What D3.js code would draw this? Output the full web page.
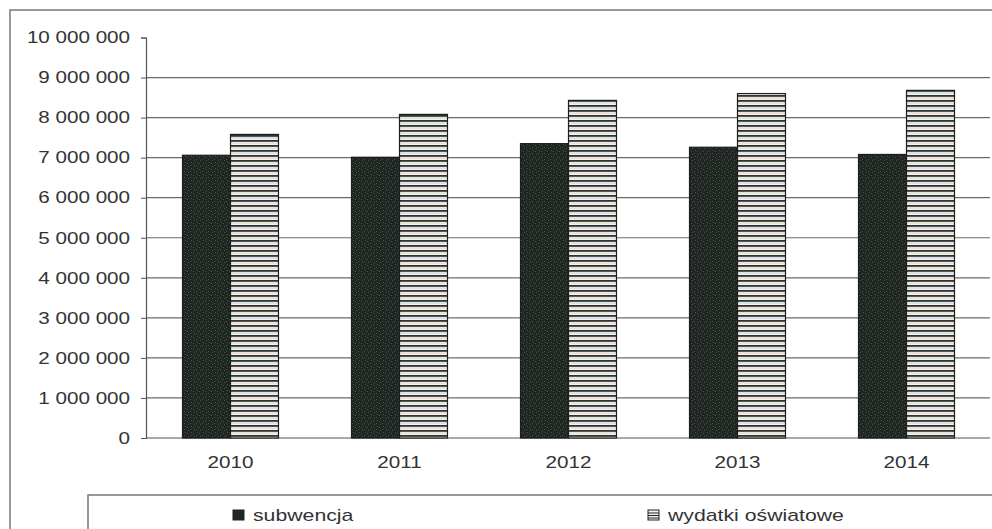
<!DOCTYPE html>
<html><head><meta charset="utf-8">
<script src="https://cdn.jsdelivr.net/npm/d3@7"></script>
<style>body{margin:0;background:#fff}svg{display:block}text{font-family:"Liberation Sans",Arial,sans-serif;fill:#333}</style>
</head><body><svg id="c" width="992" height="529"></svg>
<script>
const years = ["2010","2011","2012","2013","2014"];
const subwencja = [7060000, 7010000, 7350000, 7260000, 7080000];
const wydatki = [7580000, 8080000, 8430000, 8600000, 8680000];
const seriesNames = ["subwencja","wydatki oświatowe"];
const yTicks = [0,1000000,2000000,3000000,4000000,5000000,6000000,7000000,8000000,9000000,10000000];

const SX = 1.25; // horizontal stretch of the scanned text
const svg = d3.select("#c");
const m = {l:146, t:37.5, r:991, b:438};
const defs = svg.append("defs");
const pd = defs.append("pattern").attr("id","dark").attr("patternUnits","userSpaceOnUse").attr("width",6).attr("height",6);
pd.append("rect").attr("width",6).attr("height",6).attr("fill","#202622");
[[1,1],[4,3],[2,4],[5,0]].forEach(([x,y])=>pd.append("rect").attr("x",x).attr("y",y).attr("width",1).attr("height",1).attr("fill","#4a524c"));
const ps = defs.append("pattern").attr("id","stripe").attr("patternUnits","userSpaceOnUse").attr("width",10).attr("height",15);
ps.append("rect").attr("width",10).attr("height",15).attr("fill","#f4f2ee");
["#d9e4ea","#efe0dc","#e2e8d8"].forEach((c,i)=>ps.append("rect").attr("y",i*5+2).attr("width",10).attr("height",2).attr("fill",c));
[0,5,10].forEach(y=>ps.append("rect").attr("y",y).attr("width",10).attr("height",1.8).attr("fill","#2f3431"));

svg.append("path").attr("d","M10,529 V10 H992").attr("fill","none").attr("stroke","#777").attr("stroke-width",1.5);

const y = d3.scaleLinear().domain([0,10000000]).range([m.b,m.t]);
const x0 = d3.scaleBand().domain(years).range([m.l,m.r]).paddingInner(0.432).paddingOuter(0.216);
const x1 = d3.scaleBand().domain(seriesNames).range([0,x0.bandwidth()]);

svg.append("g").selectAll("line").data(yTicks.filter(d=>d>0 && d<10000000)).join("line")
 .attr("x1",m.l).attr("x2",990).attr("y1",d=>y(d)).attr("y2",d=>y(d)).attr("stroke","#6a6a6a").attr("stroke-width",1.2);

const fmt = d=>d3.format(",")(d).replace(/,/g," ");
const ya = svg.append("g").attr("transform",`translate(${m.l},0)`)
 .call(d3.axisLeft(y).tickValues(yTicks).tickFormat(fmt).tickSize(5));
ya.attr("font-size",null).attr("font-family",null);
ya.select(".domain").attr("stroke","#555").attr("stroke-width",1.2);
ya.selectAll(".tick line").attr("stroke","#555");
ya.selectAll("text").style("font-size","16.5px").attr("fill","#333")
  .attr("x",-16/SX).attr("transform",`scale(${SX},1)`);

const xa = svg.append("g").attr("transform",`translate(0,${m.b})`)
 .call(d3.axisBottom(x0).tickSize(0).tickPadding(18));
xa.attr("font-size",null).attr("font-family",null);
xa.select(".domain").attr("d",`M${m.l},0H990`).attr("stroke","#555").attr("stroke-width",1.2);
xa.selectAll("text").style("font-size","16.5px").attr("fill","#333").attr("transform",`scale(${SX},1)`);

const g = svg.append("g");
years.forEach((yr,i)=>{
  const vals=[subwencja[i],wydatki[i]];
  vals.forEach((v,j)=>{
    g.append("rect").attr("x",x0(yr)+x1(seriesNames[j])).attr("y",y(v))
     .attr("width",x1.bandwidth()).attr("height",m.b-y(v))
     .attr("fill",j==0?"url(#dark)":"url(#stripe)").attr("stroke","#1c1f1d").attr("stroke-width",1.2);
  });
});

svg.append("path").attr("d","M88,529 V495 H992").attr("fill","none").attr("stroke","#777").attr("stroke-width",1.5);
const legX=[233,648];
seriesNames.forEach((n,j)=>{
  svg.append("rect").attr("x",legX[j]).attr("y",510).attr("width",11).attr("height",10)
   .attr("fill",j==0?"#222724":"#f4f2ee").attr("stroke","#222").attr("stroke-width",1);
  if(j==1){[513,515.5,518].forEach(yy=>svg.append("line").attr("x1",legX[j]).attr("x2",legX[j]+11).attr("y1",yy).attr("y2",yy).attr("stroke","#222").attr("stroke-width",1));}
  svg.append("text").attr("x",(legX[j]+20)/SX).attr("y",521).attr("transform",`scale(${SX},1)`)
   .style("font-size","17px").text(n);
});
</script></body></html>
